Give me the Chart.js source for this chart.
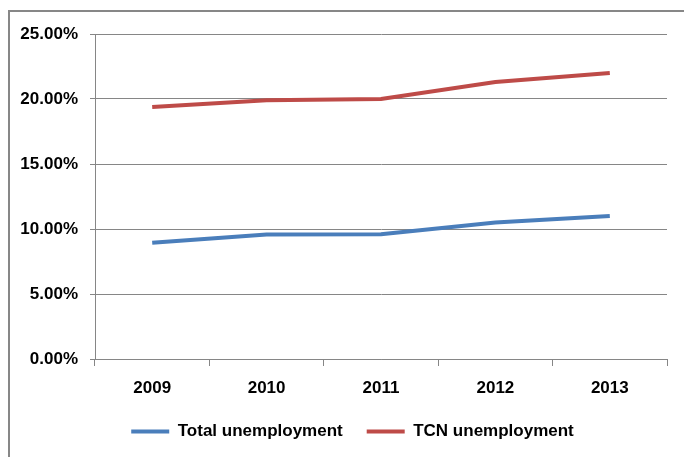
<!DOCTYPE html>
<html>
<head>
<meta charset="utf-8">
<script src="https://cdn.jsdelivr.net/npm/chart.js@4/dist/chart.umd.min.js"></script>
<style>
  html, body { margin: 0; padding: 0; background: #fff; }
  #frame { position: absolute; left: 8px; top: 10px; width: 720px; height: 500px; border: 2px solid #878787; }
  #c { position: absolute; left: 0; top: 0; }
</style>
</head>
<body>
<div id="frame"></div>
<canvas id="c" width="684" height="457"></canvas>
<script>
// chart data
var years = ["2009", "2010", "2011", "2012", "2013"];
var totalUnemployment = [8.95, 9.57, 9.6, 10.5, 11.0];
var tcnUnemployment = [19.38, 19.9, 20.0, 21.3, 22.0];
var seriesNames = ["Total unemployment", "TCN unemployment"];

var gray = "#868686";
var font = { family: "'Liberation Sans', Arial, sans-serif", size: 17, weight: "bold" };

// nudge the legend a bit to the right, like the original
var legendShift = {
	id: 'legendShift',
	afterLayout: function (chart) {
		chart.legend.left += 19;
		chart.legend.right += 19;
	}
};

new Chart(document.getElementById("c"), {
	type: 'line',
	data: {
		labels: years,
		datasets: [
			{
				label: seriesNames[0],
				data: totalUnemployment,
				borderColor: "#4A7EBB",
				backgroundColor: "#4A7EBB",
				borderWidth: 4,
				pointRadius: 0,
				tension: 0,
				fill: false
			},
			{
				label: seriesNames[1],
				data: tcnUnemployment,
				borderColor: "#BE4B48",
				backgroundColor: "#BE4B48",
				borderWidth: 4,
				pointRadius: 0,
				tension: 0,
				fill: false
			}
		]
	},
	plugins: [legendShift],
	options: {
		responsive: false,
		animation: false,
		layout: { padding: { top: 34, right: 17, left: 0, bottom: 7 } },
		scales: {
			x: {
				offset: true,
				grid: { offset: true, drawOnChartArea: false, tickLength: 7, color: gray },
				border: { color: gray },
				ticks: { font: font, color: "#000", padding: 12 },
				afterFit: function (s) { s.height = 40; }
			},
			y: {
				min: 0,
				max: 25,
				grid: { color: gray, tickLength: 5 },
				border: { color: gray },
				ticks: {
					stepSize: 5,
					font: font,
					color: "#000",
					padding: 12,
					callback: function (v) { return v.toFixed(2) + "%"; }
				},
				afterFit: function (s) { s.width = 95; }
			}
		},
		plugins: {
			tooltip: { enabled: false },
			legend: {
				position: 'bottom',
				labels: {
					boxWidth: 38,
					boxHeight: 4,
					padding: 24,
					color: "#000",
					font: font,
					generateLabels: function (chart) {
						return Chart.defaults.plugins.legend.labels.generateLabels(chart).map(function (l) {
							l.lineWidth = 0;
							return l;
						});
					}
				}
			}
		}
	}
});
</script>
</body>
</html>
